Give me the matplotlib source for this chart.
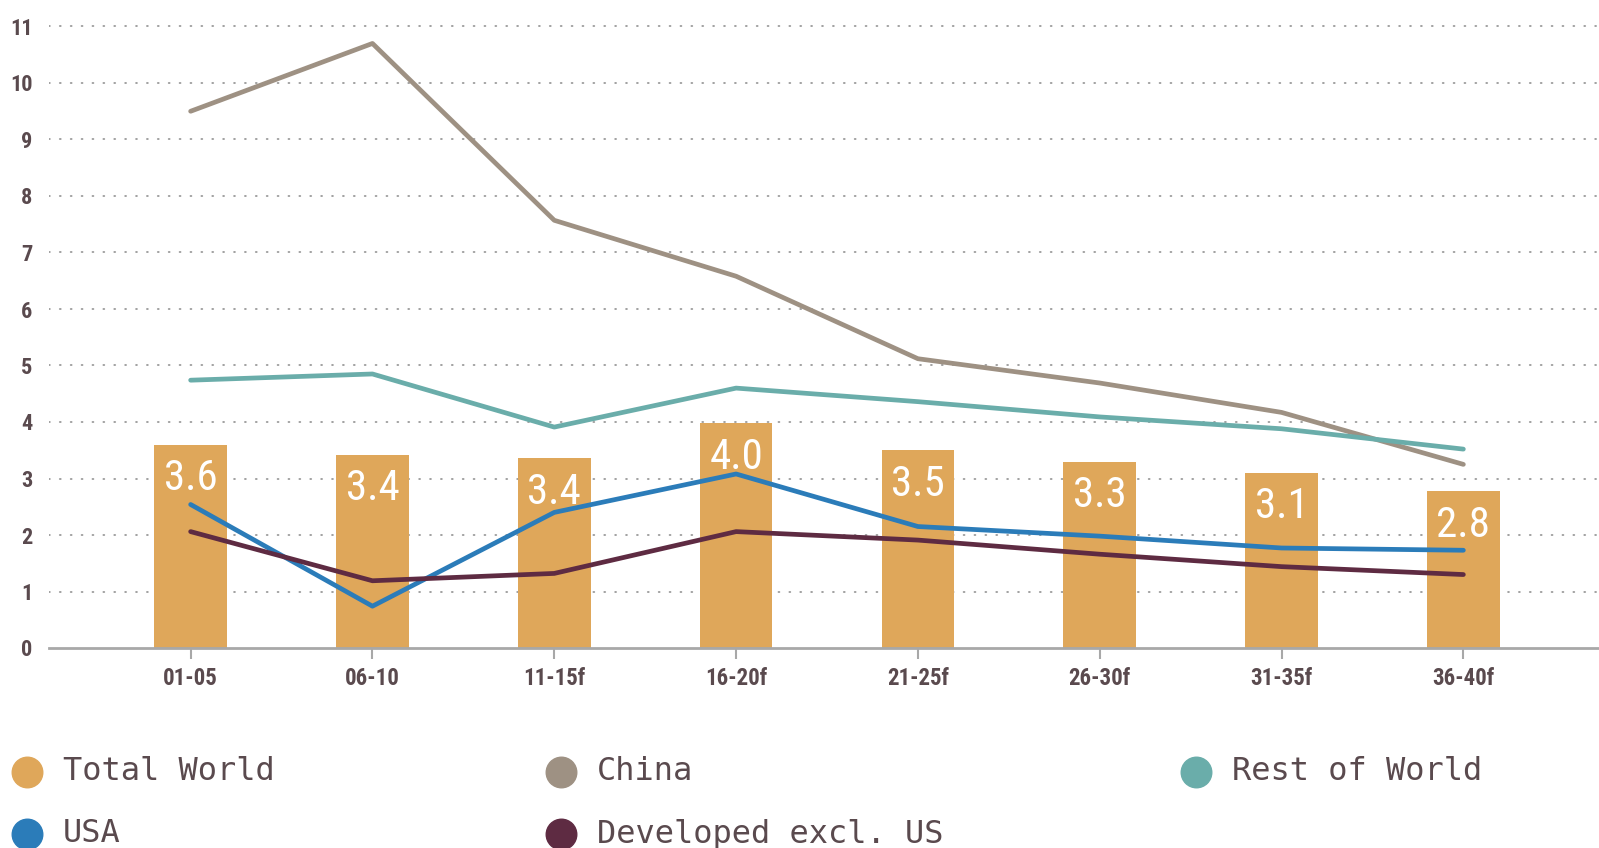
import matplotlib
matplotlib.use("Agg")
import matplotlib.pyplot as plt
from matplotlib.lines import Line2D

# periods and series (%)
periods = ["01-05", "06-10", "11-15f", "16-20f", "21-25f", "26-30f", "31-35f", "36-40f"]
total_world = [3.6, 3.42, 3.36, 3.98, 3.5, 3.3, 3.1, 2.77]
china = [9.5, 10.7, 7.57, 6.58, 5.12, 4.69, 4.17, 3.25]
rest_of_world = [4.74, 4.85, 3.91, 4.6, 4.36, 4.09, 3.88, 3.52]
usa = [2.54, 0.74, 2.40, 3.08, 2.15, 1.98, 1.77, 1.73]
developed_ex_us = [2.06, 1.19, 1.32, 2.06, 1.91, 1.66, 1.44, 1.30]
yticks = list(range(0, 12))

c_total = "#dfa75a"
c_china = "#9e9183"
c_row = "#6aadaa"
c_usa = "#2b7cb9"
c_dev = "#5e2b42"
c_text = "#5a4a4e"

narrow = ["Roboto Condensed", "Roboto", "DejaVu Sans"]

W, H = 1599, 848
fig = plt.figure(figsize=(W / 100, H / 100), dpi=100)
ax = fig.add_axes([49 / W, 200 / H, 1 - 49 / W, 11.2 * 56.5 / H])

x = list(range(len(periods)))
ax.bar(x, total_world, width=0.4, color=c_total, zorder=2)
for xi, v in zip(x, total_world):
    ax.text(xi, v - 0.24, "%.1f" % v, ha="center", va="top", color="white",
            fontsize=31, family=narrow, fontstretch="condensed", zorder=3)

lw = 3.4
ax.plot(x, china, color=c_china, lw=lw, zorder=4, solid_capstyle="round")
ax.plot(x, rest_of_world, color=c_row, lw=lw, zorder=4, solid_capstyle="round")
ax.plot(x, usa, color=c_usa, lw=lw, zorder=5, solid_capstyle="round")
ax.plot(x, developed_ex_us, color=c_dev, lw=lw, zorder=6, solid_capstyle="round")

ax.set_xlim(-0.779, 7.746)
ax.set_ylim(0, 11.2)
ax.set_axisbelow(True)

for t in yticks[1:]:
    ax.axhline(t, color="#a0a0a0", lw=1.4, linestyle=(0, (0.4, 5.2)),
               dash_capstyle="round", zorder=1)

for s in ["top", "right", "left"]:
    ax.spines[s].set_visible(False)
ax.spines["bottom"].set_color("#a8a8a8")
ax.spines["bottom"].set_linewidth(2)

ax.set_xticks(x)
ax.set_xticklabels(periods, fontsize=16.5, fontweight="bold", color=c_text,
                   family=narrow, fontstretch="condensed")
ax.tick_params(axis="x", length=8, width=1.5, color="#a8a8a8", pad=6)
ax.set_yticks(yticks)
ax.set_yticklabels([str(t) for t in yticks], fontsize=16, fontweight="bold",
                   color=c_text, family=narrow, fontstretch="condensed")
ax.tick_params(axis="y", length=0, pad=12)

# legend drawn by hand in pixel layout
legend_items = [
    ("Total World", c_total, 27, 772),
    ("China", c_china, 561, 772),
    ("Rest of World", c_row, 1196, 772),
    ("USA", c_usa, 27, 834),
    ("Developed excl. US", c_dev, 561, 834),
]
for label, col, px, py in legend_items:
    fx, fy = px / W, 1 - py / H
    fig.add_artist(Line2D([fx], [fy], marker="o", markersize=22, color=col,
                          linestyle="none", transform=fig.transFigure))
    fig.text(fx + 36 / W, fy, label, ha="left", va="center", fontsize=23,
             family="DejaVu Sans Mono", color=c_text)

fig.savefig("out.png", dpi=100)
